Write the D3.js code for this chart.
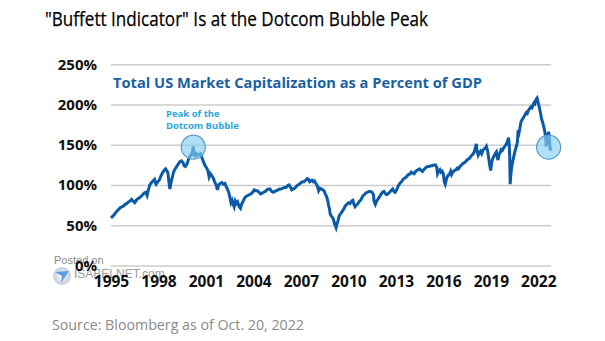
<!DOCTYPE html>
<html><head><meta charset="utf-8">
<script src="https://cdn.jsdelivr.net/npm/d3@7"></script>
<style>
html,body{margin:0;padding:0;background:#fff;}
svg{display:block;}
</style></head>
<body>
<svg id="chart" width="605" height="341"></svg>
<script>
// ---- data ----
const yTicks = [0, 50, 100, 150, 200, 250];
const xTicks = [1995, 1998, 2001, 2004, 2007, 2010, 2013, 2016, 2019, 2022];
const dates = [
1995.0,1995.1,1995.2,1995.3,1995.4,1995.5,1995.6,1995.7,1995.8,1995.9,
1996.0,1996.1,1996.2,1996.3,1996.35,1996.45,1996.5,1996.6,1996.7,1996.8,1996.9,
1997.0,1997.1,1997.2,1997.28,1997.35,1997.45,1997.55,1997.65,1997.75,1997.8,1997.85,1997.95,
1998.05,1998.15,1998.25,1998.35,1998.45,1998.52,1998.6,1998.65,1998.72,1998.8,1998.88,1998.95,
1999.05,1999.15,1999.25,1999.35,1999.45,1999.55,1999.62,1999.7,1999.8,1999.9,
2000.0,2000.08,2000.15,2000.2,2000.25,2000.32,2000.4,2000.48,2000.55,2000.65,2000.72,2000.8,2000.88,2000.95,
2001.05,2001.12,2001.2,2001.28,2001.35,2001.45,2001.55,2001.65,2001.72,2001.8,2001.9,
2002.0,2002.1,2002.2,2002.3,2002.38,2002.45,2002.52,2002.58,2002.65,2002.72,2002.78,2002.85,2002.92,
2003.0,2003.1,2003.18,2003.25,2003.35,2003.45,2003.55,2003.65,2003.75,2003.85,2003.95,
2004.05,2004.15,2004.25,2004.35,2004.45,2004.55,2004.65,2004.75,2004.85,2004.95,
2005.05,2005.15,2005.25,2005.35,2005.45,2005.55,2005.65,2005.75,2005.85,2005.95,
2006.05,2006.15,2006.25,2006.35,2006.42,2006.5,2006.6,2006.7,2006.8,2006.9,
2007.0,2007.1,2007.2,2007.3,2007.4,2007.48,2007.55,2007.62,2007.7,2007.78,2007.85,2007.95,
2008.05,2008.12,2008.2,2008.3,2008.4,2008.48,2008.55,2008.62,2008.7,2008.75,2008.8,2008.85,2008.9,2008.97,
2009.05,2009.12,2009.18,2009.22,2009.28,2009.35,2009.42,2009.5,2009.6,2009.7,2009.8,2009.9,
2010.0,2010.1,2010.2,2010.28,2010.35,2010.42,2010.5,2010.6,2010.7,2010.8,2010.9,
2011.0,2011.1,2011.2,2011.3,2011.4,2011.5,2011.58,2011.62,2011.7,2011.78,2011.85,2011.95,
2012.05,2012.15,2012.25,2012.35,2012.42,2012.5,2012.6,2012.7,2012.8,2012.88,2012.95,
2013.05,2013.15,2013.25,2013.35,2013.42,2013.5,2013.6,2013.7,2013.8,2013.9,2013.97,
2014.05,2014.15,2014.25,2014.32,2014.4,2014.5,2014.6,2014.68,2014.75,2014.82,2014.9,
2015.0,2015.1,2015.2,2015.3,2015.4,2015.5,2015.58,2015.63,2015.7,2015.78,2015.85,2015.92,
2016.0,2016.06,2016.12,2016.2,2016.3,2016.4,2016.46,2016.52,2016.6,2016.7,2016.8,2016.88,2016.95,
2017.05,2017.15,2017.25,2017.35,2017.45,2017.55,2017.65,2017.75,2017.85,2017.95,
2018.03,2018.08,2018.13,2018.2,2018.28,2018.35,2018.42,2018.5,2018.58,2018.66,2018.72,2018.8,2018.88,2018.95,2018.99,
2019.05,2019.12,2019.2,2019.28,2019.35,2019.4,2019.45,2019.52,2019.6,2019.65,2019.72,2019.8,2019.88,2019.95,
2020.02,2020.08,2020.12,2020.16,2020.19,2020.22,2020.25,2020.3,2020.36,2020.42,2020.5,2020.58,2020.64,2020.68,2020.72,2020.78,2020.83,2020.9,2020.97,
2021.04,2021.1,2021.17,2021.24,2021.3,2021.38,2021.45,2021.52,2021.6,2021.67,2021.72,2021.78,2021.83,2021.88,2021.92,2021.97,
2022.02,2022.07,2022.12,2022.17,2022.22,2022.27,2022.32,2022.37,2022.42,2022.46,2022.5,2022.55,2022.6,2022.64,2022.68,2022.72,2022.76,2022.8
];
const values = [
59,61,63,66,68,70,72,73,74,76,
77,79,80,82,81,79,78,81,83,84,86,
88,90,91,87,93,100,103,105,107,103,101,104,
106,111,115,118,120,118,115,105,95,104,110,116,
120,123,126,129,130,128,124,123,126,132,
136,138,142,148,137,136,139,137,138,139,135,131,127,124,
121,118,110,114,112,109,104,100,94,100,102,
103,101,102,97,94,90,84,78,81,76,73,80,77,
79,73,71,76,80,84,86,87,88,89,91,
94,93,93,91,89,90,91,92,94,95,
95,92,91,92,93,94,95,95,96,97,
97,99,100,97,94,95,96,98,100,101,
103,104,104,106,108,107,104,105,106,104,105,102,
98,93,96,95,94,92,88,86,80,74,71,64,62,60,
58,52,49,47,52,56,62,64,67,70,74,76,
78,77,80,81,76,73,75,77,80,82,86,
88,90,91,92,92,91,88,80,76,80,82,85,
88,91,92,89,88,89,91,93,95,92,91,
94,99,102,104,106,108,109,111,113,114,116,
115,114,117,118,119,120,118,117,119,120,122,
123,123,124,124,125,125,122,114,117,119,116,117,
114,104,101,108,112,114,117,113,116,118,119,121,120,
123,125,127,128,130,132,133,136,138,141,
147,151,143,137,140,142,139,143,145,146,148,142,131,122,118,
128,133,136,139,141,135,131,138,141,144,143,146,148,150,
153,156,159,150,135,101,110,120,127,133,140,146,150,154,168,165,170,178,181,
183,185,188,190,189,193,195,197,196,200,202,201,205,207,208,204,
200,196,191,186,181,178,174,170,165,160,148,155,160,166,162,150,143,146
];
const pointsCircles = [{x: 2000.2, y: 147}, {x: 2022.65, y: 147}];

// ---- chart ----
const svg = d3.select("#chart");
const x = d3.scaleLinear().domain([1995, 2022.8]).range([111, 551]);
const y = d3.scaleLinear().domain([0, 250]).range([265.5, 64.3]);

// title
svg.append("text").attr("x", 45).attr("y", 26)
  .attr("font-family", "'Open Sans', sans-serif").attr("font-size", 19.5)
  .attr("fill", "#000").attr("stroke", "#000").attr("stroke-width", 0.25)
  .attr("textLength", 383).attr("lengthAdjust", "spacingAndGlyphs")
  .text('"Buffett Indicator" Is at the Dotcom Bubble Peak');

// gridlines
svg.append("g").attr("transform", "translate(111,0)")
  .call(d3.axisLeft(y).tickValues(yTicks).tickSize(-440).tickFormat(""))
  .call(g => g.select(".domain").remove())
  .call(g => g.selectAll("line").attr("stroke", "#cccccc").attr("stroke-width", 1.5));

// watermark
const wm = svg.append("g").attr("opacity", 0.85);
const grad = svg.append("defs").append("radialGradient").attr("id", "lg");
grad.append("stop").attr("offset", "0%").attr("stop-color", "#ffffff");
grad.append("stop").attr("offset", "100%").attr("stop-color", "#b9c6d6");
wm.append("circle").attr("cx", 62).attr("cy", 276).attr("r", 8.5).attr("fill", "url(#lg)").attr("stroke", "#c5ccd6");
wm.append("path").attr("d", "M55,272 L69,271 L61,283 L62,276 Z").attr("fill", "#3b8fd6");
wm.append("text").attr("x", 54).attr("y", 264).attr("font-family", "'Liberation Sans', Arial, sans-serif")
  .attr("font-size", 11).attr("fill", "#777").text("Posted on");
wm.append("text").attr("x", 74).attr("y", 278).attr("font-family", "'Liberation Sans', Arial, sans-serif")
  .attr("font-size", 12).attr("fill", "#8a8a8a").text("ISABELNET.com");

// y labels
svg.append("g").attr("transform", "translate(97,0)")
  .call(d3.axisLeft(y).tickValues(yTicks).tickSize(0).tickPadding(0).tickFormat(d => d + "%"))
  .call(g => g.select(".domain").remove())
  .call(g => g.selectAll("text").attr("font-family", "'Open Sans', sans-serif")
    .attr("font-size", 15).attr("font-weight", 700).attr("fill", "#111"));

// x labels
svg.append("g").attr("transform", "translate(0,276)")
  .call(d3.axisBottom(x).tickValues(xTicks).tickSize(0).tickPadding(0).tickFormat(d3.format("d")))
  .call(g => g.select(".domain").remove())
  .call(g => g.selectAll("text").attr("font-family", "'Open Sans', sans-serif")
    .attr("font-size", 15.5).attr("font-weight", 700).attr("fill", "#111"));

// subtitle
svg.append("text").attr("x", 113).attr("y", 88)
  .attr("font-family", "'Open Sans', sans-serif").attr("font-size", 15).attr("font-weight", 700)
  .attr("fill", "#1b5fa3").attr("textLength", 369).attr("lengthAdjust", "spacingAndGlyphs")
  .text("Total US Market Capitalization as a Percent of GDP");

// line
const data = dates.map((d, i) => ({d, v: values[i]}));
svg.append("path").datum(data)
  .attr("fill", "none").attr("stroke", "#0a5aa8").attr("stroke-width", 3)
  .attr("stroke-linejoin", "miter")
  .attr("d", d3.line().x(p => x(p.d)).y(p => y(p.v)));

// annotation
const ann = svg.append("text").attr("font-family", "'Open Sans', sans-serif")
  .attr("font-size", 9.5).attr("font-weight", 700).attr("fill", "#2ba6df");
ann.append("tspan").attr("x", 166).attr("y", 117).text("Peak of the");
ann.append("tspan").attr("x", 166).attr("y", 129).text("Dotcom Bubble");

// circles
svg.selectAll("circle.hl").data(pointsCircles).join("circle").attr("class", "hl")
  .attr("cx", p => x(p.x)).attr("cy", p => y(p.y)).attr("r", 12)
  .attr("fill", "#86cff2").attr("fill-opacity", 0.65)
  .attr("stroke", "#5a9ccc").attr("stroke-width", 1.2);

// source
svg.append("text").attr("x", 52).attr("y", 330)
  .attr("font-family", "'Open Sans', sans-serif").attr("font-size", 14)
  .attr("fill", "#8a8a8a").attr("textLength", 252).attr("lengthAdjust", "spacingAndGlyphs")
  .text("Source: Bloomberg as of Oct. 20, 2022");
</script>
</body></html>
